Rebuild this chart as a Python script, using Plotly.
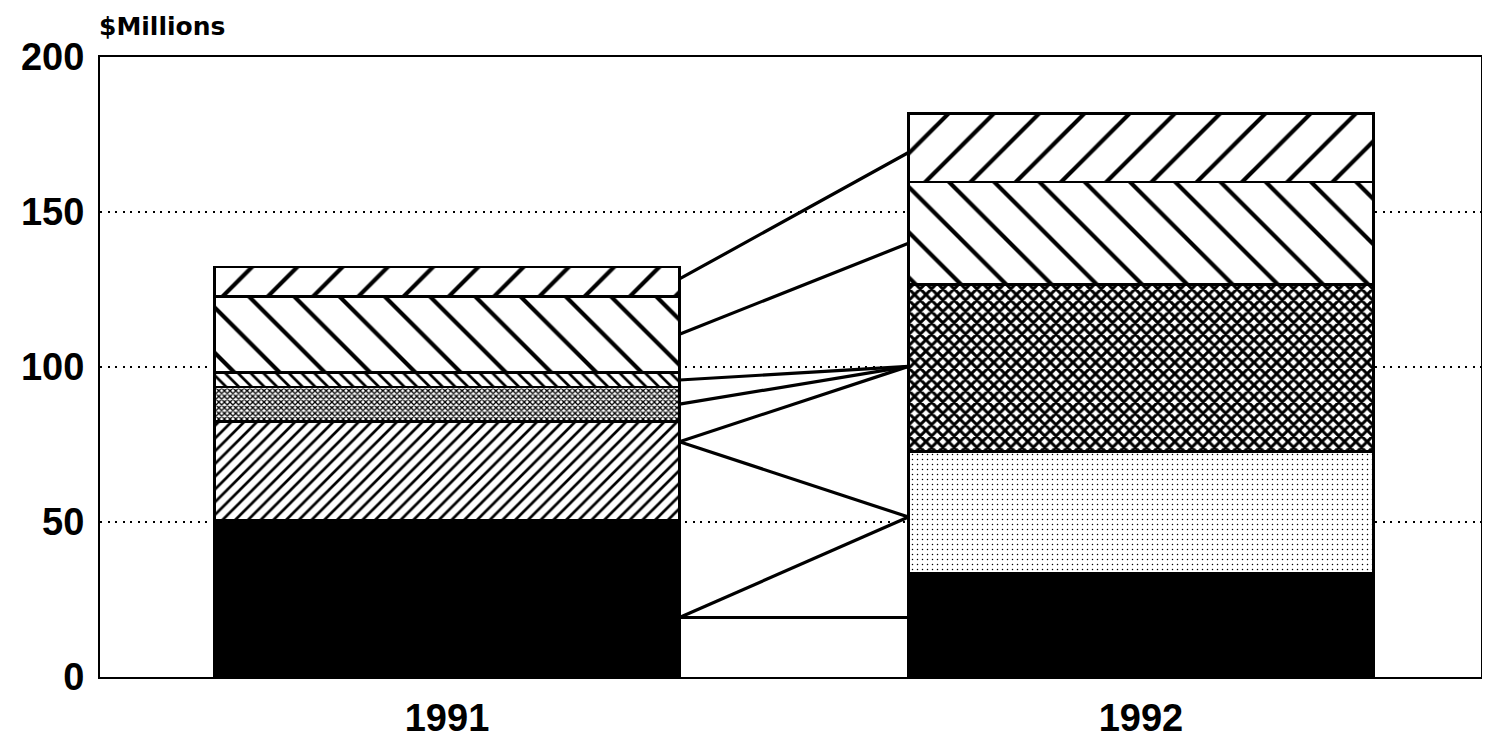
import plotly.graph_objects as go

# ---- data ----
years = ["1991", "1992"]
yticks = [0, 50, 100, 150, 200]

# stacked segment heights ($ millions), bottom to top
seg_1991 = [50.6, 31.8, 11.1, 4.8, 24.4, 9.5]
seg_1992 = [33.6, 39.2, 53.8, 33.1, 22.0]

# flow connector values: 1991 level -> 1992 level
link_from = [128.4, 110.6, 95.8, 88.0, 75.9, 75.9, 19.2, 19.2]
link_to = [169.2, 139.9, 100.2, 100.2, 100.2, 51.6, 51.6, 19.2]

# ---- styles ----
BW = 0.67
pat_1991 = [
    dict(shape="", bgcolor="black"),
    dict(shape="/", size=9, solidity=0.3, fgcolor="black", bgcolor="white", fillmode="replace"),
    dict(shape="x", size=4, solidity=0.55, fgcolor="black", bgcolor="white", fillmode="replace"),
    dict(shape="\\", size=9, solidity=0.3, fgcolor="black", bgcolor="white", fillmode="replace"),
    dict(shape="\\", size=32, solidity=0.13, fgcolor="black", bgcolor="white", fillmode="replace"),
    dict(shape="/", size=32, solidity=0.13, fgcolor="black", bgcolor="white", fillmode="replace"),
]
pat_1992 = [
    dict(shape="", bgcolor="black"),
    dict(shape=".", size=5, solidity=0.07, fgcolor="black", bgcolor="white", fillmode="replace"),
    dict(shape="x", size=8, solidity=0.6, fgcolor="black", bgcolor="white", fillmode="replace"),
    dict(shape="\\", size=32, solidity=0.13, fgcolor="black", bgcolor="white", fillmode="replace"),
    dict(shape="/", size=32, solidity=0.13, fgcolor="black", bgcolor="white", fillmode="replace"),
]

fig = go.Figure()

for xi, (segs, pats) in enumerate([(seg_1991, pat_1991), (seg_1992, pat_1992)]):
    for v, p in zip(segs, pats):
        col = "black" if p.get("shape", "") == "" else "white"
        fig.add_trace(go.Bar(
            x=[xi], y=[v], width=BW,
            marker=dict(color=col, pattern=p, line=dict(color="black", width=2.5)),
            showlegend=False, hoverinfo="skip",
        ))

x_left = 0 + BW / 2
x_right = 1 - BW / 2
for a, b in zip(link_from, link_to):
    fig.add_trace(go.Scatter(
        x=[x_left, x_right], y=[a, b], mode="lines",
        line=dict(color="black", width=3.2), showlegend=False, hoverinfo="skip",
    ))

tick_font = dict(family="Liberation Sans", size=38, color="black", weight="bold")

fig.update_layout(
    barmode="stack",
    width=1474, height=736,
    margin=dict(l=92, r=0, t=49, b=67),
    paper_bgcolor="white", plot_bgcolor="white",
    xaxis=dict(
        range=[-0.5, 1.4914], tickvals=[0, 1], ticktext=years,
        showgrid=False, zeroline=False, showline=True, linecolor="black",
        linewidth=2, mirror=True, ticks="", tickfont=tick_font,
        ticklabelstandoff=6,
    ),
    yaxis=dict(
        range=[0, 200], tickvals=yticks, showgrid=True, gridcolor="black",
        gridwidth=2, griddash="2px,5.5px", zeroline=False, showline=True,
        linecolor="black", linewidth=2, ticks="", tickfont=tick_font,
        ticklabelstandoff=6,
    ),
    shapes=[dict(type="line", xref="paper", yref="paper", x0=1, x1=1, y0=0, y1=1,
                 line=dict(color="black", width=2))],
    annotations=[dict(
        text="$Millions", xref="paper", yref="paper", x=0, y=1,
        xanchor="left", yanchor="bottom", yshift=14, xshift=-3, showarrow=False,
        font=dict(family="DejaVu Sans", size=25, color="black", weight="bold"),
    )],
)

fig.write_html("out.html")
